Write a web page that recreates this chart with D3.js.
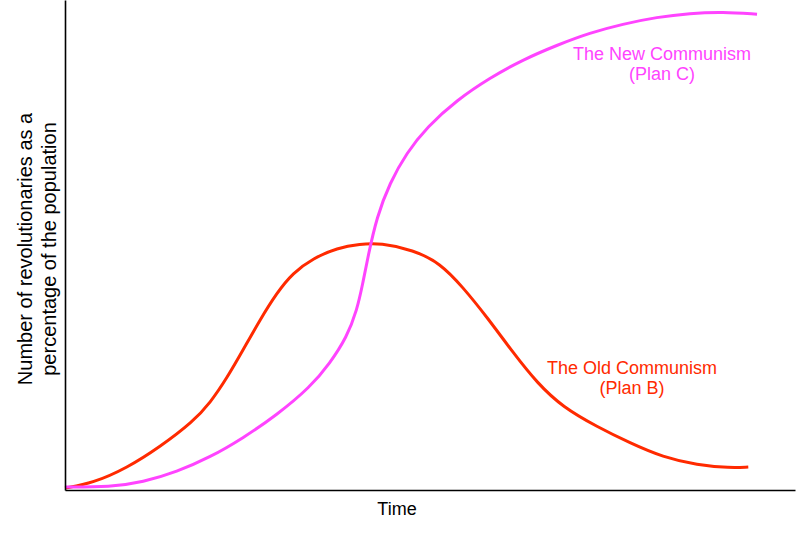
<!DOCTYPE html>
<html>
<head>
<meta charset="utf-8">
<script src="https://cdn.jsdelivr.net/npm/d3@7"></script>
<style>
  html, body { margin: 0; padding: 0; background: #fff; }
  svg { display: block; }
  text { font-family: "Liberation Sans", Arial, Helvetica, sans-serif; }
</style>
</head>
<body>
<svg id="chart" width="806" height="536"></svg>
<script>
// Data (time 0-100, revolutionaries % 0-100)
const oldTime = [0, 3.8, 8.5, 13.0, 17.5, 19.9, 22.2, 24.4, 26.7, 29.0, 31.2, 34.0, 37.3, 40.4, 43.2, 47.7, 51.4, 54.5, 57.8, 61.4, 64.7, 68.2, 72.9, 77.4, 81.9, 86.6, 91.1, 93.6];
const oldValues = [0.4, 1.4, 4.5, 8.8, 13.9, 17.8, 22.9, 28.6, 34.7, 40.2, 44.3, 47.3, 49.4, 50.2, 50.4, 49.0, 46.3, 41.4, 35.3, 28.0, 21.8, 16.9, 12.9, 9.6, 6.7, 5.1, 4.5, 4.7];
const newTime = [0, 6.2, 10.7, 15.3, 19.9, 24.4, 29.0, 33.6, 36.3, 38.6, 40.0, 40.8, 41.5, 42.7, 44.5, 46.8, 49.6, 53.7, 58.2, 62.7, 67.4, 71.9, 76.4, 81.1, 85.6, 90.1, 94.8];
const newValues = [0.6, 0.6, 1.6, 3.7, 6.7, 10.6, 15.3, 21.0, 25.9, 31.2, 36.7, 42.2, 47.6, 55.7, 62.7, 68.8, 74.1, 79.6, 84.1, 87.8, 90.8, 93.3, 95.1, 96.5, 97.3, 97.6, 97.1];
const seriesNames = ["The Old Communism", "The New Communism"];
const seriesSub = ["(Plan B)", "(Plan C)"];
const seriesColors = ["#FF2A00", "#FF44FF"];
const xLabel = "Time";
const yLabelLines = ["Number of revolutionaries as a", "percentage of the population"];

const svg = d3.select("#chart");
const x = d3.scaleLinear().domain([0, 100]).range([65, 795]);
const y = d3.scaleLinear().domain([0, 100]).range([490, 0]);

const line = d3.line()
  .x(d => x(d[0]))
  .y(d => y(d[1]))
  .curve(d3.curveBasis);

const series = [
  oldTime.map((t, i) => [t, oldValues[i]]),
  newTime.map((t, i) => [t, newValues[i]])
];

series.forEach((s, i) => {
  svg.append("path")
    .datum(s)
    .attr("d", line)
    .attr("fill", "none")
    .attr("stroke", seriesColors[i])
    .attr("stroke-width", 3)
    .attr("stroke-linecap", "butt");
});

// axes
const xAxis = svg.append("g").attr("transform", `translate(0,${y(0)})`)
  .call(d3.axisBottom(x).ticks(0).tickSize(0).tickSizeOuter(0));
const yAxis = svg.append("g").attr("transform", `translate(${x(0)},0)`)
  .call(d3.axisLeft(y).ticks(0).tickSize(0).tickSizeOuter(0));
[xAxis, yAxis].forEach(g => {
  g.selectAll("text").remove();
  g.select(".domain").attr("stroke", "#000").attr("stroke-width", 1.6);
});

// axis labels
svg.append("text")
  .attr("x", 397).attr("y", 515)
  .attr("text-anchor", "middle")
  .attr("font-size", 18).attr("fill", "#000")
  .text(xLabel);

const yl = svg.append("text")
  .attr("transform", "translate(32,249) rotate(-90)")
  .attr("text-anchor", "middle")
  .attr("font-size", 20).attr("fill", "#000");
yLabelLines.forEach((t, i) => {
  yl.append("tspan").attr("x", 0).attr("y", i * 24).text(t);
});

// series annotations
const annot = [
  { cx: 632, by: 374 },
  { cx: 662, by: 60 }
];
annot.forEach((a, i) => {
  const t = svg.append("text")
    .attr("text-anchor", "middle")
    .attr("font-size", 18)
    .attr("fill", seriesColors[i]);
  t.append("tspan").attr("x", a.cx).attr("y", a.by).text(seriesNames[i]);
  t.append("tspan").attr("x", a.cx).attr("y", a.by + 20).text(seriesSub[i]);
});
</script>
</body>
</html>
